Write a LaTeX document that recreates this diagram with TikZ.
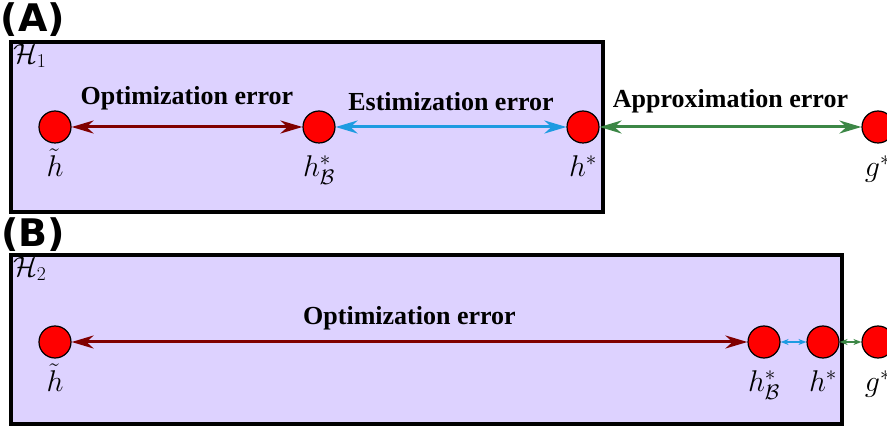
\documentclass[tikz,border=0pt]{standalone}
\usepackage{fix-cm}
\usepackage{fontspec}
\setmainfont{Liberation Serif}
\newfontfamily\panelfont{DejaVu Sans}
\usetikzlibrary{arrows.meta,positioning}
\definecolor{hypL}{RGB}{221,210,255}
\definecolor{errO}{RGB}{128,0,0}
\definecolor{errE}{RGB}{30,155,225}
\definecolor{errA}{RGB}{60,135,70}

\tikzset{
  pt/.style={circle,draw=black,fill=red,line width=1.2pt,minimum size=32pt,inner sep=0pt},
  hyp/.style={draw=black,fill=hypL,line width=4pt},
  err/.style={font=\fontsize{26}{30}\selectfont\bfseries,inner sep=0pt},
  lbl/.style={font=\fontsize{30}{34}\selectfont,anchor=base,inner sep=0pt},
  panel/.style={font=\fontsize{38}{40}\selectfont\panelfont\bfseries,inner sep=0pt},
}

\begin{document}
\begin{tikzpicture}[x=1pt,y=-1pt,>={Stealth[length=22pt,width=13pt]}]
\useasboundingbox (0,0) rectangle (887,430);
% (A): model class H_1
\draw[hyp] (11,42) rectangle (603,212);
\node[panel] (pA) at (33,20) {(A)};
\node[lbl,anchor=north west,font=\fontsize{28}{32}\selectfont] (H1) at (13,44) {$\mathcal{H}_1$};
\node[pt] (ht) at (55,127) {};
\node[pt] (hb) at (319,127) {};
\node[pt] (hs) at (583,127) {};
\node[pt] (gs) at (878,127) {};
\draw[<->,errO,line width=3pt] (ht) -- node[err,black,above=15pt]{Optimization error} (hb);
\draw[<->,errE,line width=3pt] (hb) -- node[err,black,above=15pt]{Estimization error} (hs);
\draw[<->,errA,line width=3pt] (hs) -- node[err,black,above=12pt]{Approximation error} (gs);
\node[lbl] (lht) at ([yshift=-33pt]ht.south) {$\tilde{h}$};
\node[lbl] (lhb) at ([yshift=-33pt]hb.south) {$h^*_{\mathcal{B}}$};
\node[lbl] (lhs) at ([yshift=-33pt]hs.south) {$h^*$};
\node[lbl] (lgs) at ([yshift=-33pt]gs.south) {$g^*$};
% (B): larger class H_2
\draw[hyp] (11,255) rectangle (842,424);
\node[panel] (pB) at (33,235) {(B)};
\node[lbl,anchor=north west,font=\fontsize{28}{32}\selectfont] (H2) at (13,257) {$\mathcal{H}_2$};
\node[pt] (ht2) at (55,342) {};
\node[pt] (hb2) at (764,342) {};
\node[pt] (hs2) at (823,342) {};
\node[pt] (gs2) at (878,342) {};
\draw[<->,errO,line width=3pt] (ht2) -- node[err,black,above=10pt]{Optimization error} (hb2);
\draw[<->,errE,line width=1.5pt,>={Stealth[length=8pt,width=6pt]}] (hb2) -- (hs2);
\draw[<->,errA,line width=1.5pt,>={Stealth[length=8pt,width=6pt]}] (hs2) -- (gs2);
\node[lbl] (lht2) at ([yshift=-33pt]ht2.south) {$\tilde{h}$};
\node[lbl] (lhb2) at ([yshift=-33pt]hb2.south) {$h^*_{\mathcal{B}}$};
\node[lbl] (lhs2) at ([yshift=-33pt]hs2.south) {$h^*$};
\node[lbl] (lgs2) at ([yshift=-33pt]gs2.south) {$g^*$};
\end{tikzpicture}
\end{document}
